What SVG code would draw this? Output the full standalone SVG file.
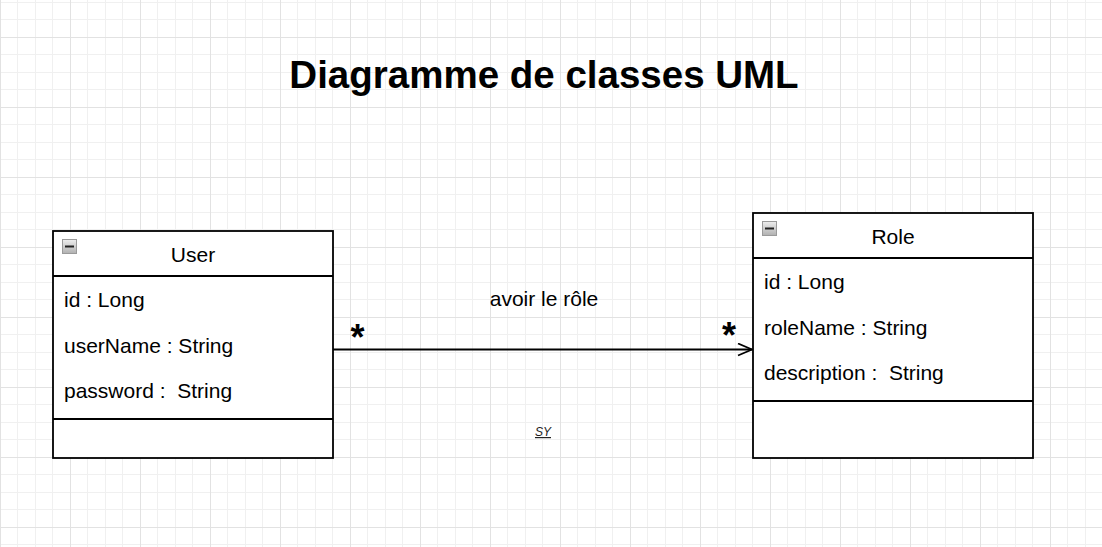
<svg xmlns="http://www.w3.org/2000/svg" width="1102" height="547" viewBox="0 0 1102 547">
  <defs>
    <pattern id="grid" x="0" y="37" width="70" height="70" patternUnits="userSpaceOnUse">
      <rect x="0" y="17" width="70" height="1" fill="#f0f0f0"/>
      <rect x="0" y="35" width="70" height="1" fill="#f0f0f0"/>
      <rect x="0" y="52" width="70" height="1" fill="#f0f0f0"/>
      <rect x="17" y="0" width="1" height="70" fill="#f0f0f0"/>
      <rect x="35" y="0" width="1" height="70" fill="#f0f0f0"/>
      <rect x="52" y="0" width="1" height="70" fill="#f0f0f0"/>
      <rect x="0" y="0" width="70" height="1" fill="#e2e2e2"/>
      <rect x="0" y="0" width="1" height="70" fill="#e2e2e2"/>
    </pattern>
    <linearGradient id="btn" x1="0" y1="0" x2="0" y2="1">
      <stop offset="0" stop-color="#eeeeee"/>
      <stop offset="1" stop-color="#b0b0b0"/>
    </linearGradient>
    <marker id="open" viewBox="0 0 16 14" refX="15" refY="7" markerWidth="16" markerHeight="14" markerUnits="userSpaceOnUse" orient="auto">
      <path d="M1,1 L15,7 L1,13" fill="none" stroke="#000" stroke-width="1.8"/>
    </marker>
    <style>
      .box { fill: #ffffff; stroke: #000; stroke-width: 1.8; }
      .sep { stroke: #000; stroke-width: 1.8; }
      .t { font-family: "Liberation Sans", Arial, sans-serif; font-size: 21px; fill: #000; }
      .hdr { text-anchor: middle; }
      .title { font-family: "Liberation Sans", Arial, sans-serif; font-size: 38.5px; font-weight: bold; fill: #000; text-anchor: middle; }
      .mult { font-family: "Liberation Sans", Arial, sans-serif; font-size: 36px; font-weight: bold; fill: #000; text-anchor: middle; }
      .icon { fill: url(#btn); stroke: #9a9a9a; stroke-width: 1; }
    </style>
  </defs>
  <rect x="0" y="0" width="1102" height="547" fill="#ffffff"/>
  <rect x="0" y="0" width="1102" height="547" fill="url(#grid)"/>

  <text class="title" x="544" y="88">Diagramme de classes UML</text>

  <g id="User">
    <rect class="box" x="53" y="231" width="280" height="227"/>
    <line class="sep" x1="53" y1="276" x2="333" y2="276"/>
    <line class="sep" x1="53" y1="419" x2="333" y2="419"/>
    <rect class="icon" x="62.5" y="239.5" width="14" height="14"/>
    <rect x="65" y="245.5" width="9" height="2" fill="#222"/>
    <text class="t hdr" x="193" y="262">User</text>
    <text class="t" x="64" y="307">id : Long</text>
    <text class="t" x="64" y="352.5">userName : String</text>
    <text class="t" x="64" y="398" xml:space="preserve">password :  String</text>
  </g>

  <g id="Role">
    <rect class="box" x="753" y="213" width="280" height="245"/>
    <line class="sep" x1="753" y1="258" x2="1033" y2="258"/>
    <line class="sep" x1="753" y1="401" x2="1033" y2="401"/>
    <rect class="icon" x="762.5" y="221.5" width="14" height="14"/>
    <rect x="765" y="227.5" width="9" height="2" fill="#222"/>
    <text class="t hdr" x="893" y="244">Role</text>
    <text class="t" x="764" y="289">id : Long</text>
    <text class="t" x="764" y="334.5">roleName : String</text>
    <text class="t" x="764" y="380" xml:space="preserve">description :  String</text>
  </g>

  <g id="connectors">
    <line x1="333" y1="349.5" x2="752" y2="349.5" stroke="#000" stroke-width="1.8" marker-end="url(#open)"/>
    <text class="t hdr" x="544" y="306">avoir le rôle</text>
    <text class="mult" x="357.5" y="350">*</text>
    <text class="mult" x="729" y="348">*</text>
  </g>

  <text x="543" y="436" font-family="Liberation Sans, Arial, sans-serif" font-size="12" font-style="italic" text-decoration="underline" fill="#222" text-anchor="middle">SY</text>
</svg>
